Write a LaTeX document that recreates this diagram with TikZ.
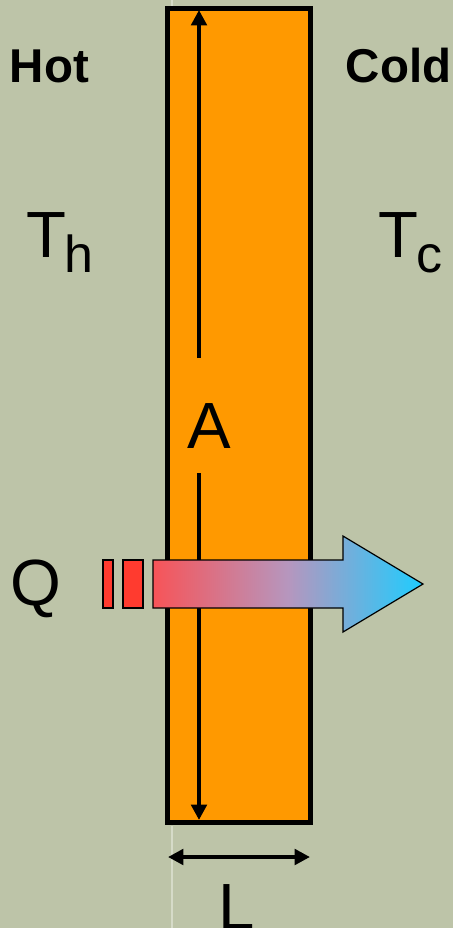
\documentclass[tikz,border=0pt]{standalone}
\usepackage{fontspec}
\setmainfont{Liberation Sans}
\usetikzlibrary{arrows.meta}
\definecolor{bg}{RGB}{189,196,168}
\definecolor{slab}{RGB}{255,153,0}
\definecolor{hotred}{RGB}{255,59,47}
\definecolor{faint}{RGB}{214,219,200}
\definecolor{flowl}{RGB}{247,84,88}
\definecolor{flowm}{RGB}{182,150,190}
\definecolor{flowr}{RGB}{30,205,255}
\pgfdeclarehorizontalshading{heatflow}{100bp}{
  color(0bp)=(flowl);
  color(25bp)=(flowl);
  color(50bp)=(flowm);
  color(75bp)=(flowr);
  color(100bp)=(flowr)}
\tikzset{
  lbl/.style={inner sep=0pt, anchor=base west, text=black},
  bigtxt/.style={lbl, font=\fontsize{49}{49}\selectfont},
  subtxt/.style={lbl, font=\fontsize{39}{39}\selectfont},
  sidetxt/.style={lbl, font=\fontsize{35.6}{36}\selectfont\bfseries},
  dimarrow/.style={line width=3pt, {Triangle[width=11.5pt,length=11.5pt]}-{Triangle[width=11.5pt,length=11.5pt]}},
  dimline/.style={line width=3.3pt},
  slabbox/.style={fill=slab, draw=black, line width=3.75pt},
  pulse/.style={fill=hotred, draw=black, line width=0.8pt}
}
\begin{document}
\begin{tikzpicture}[x=0.75pt, y=-0.75pt]
  \fill[bg] (0,0) rectangle (453,928);
  \useasboundingbox (0,0) rectangle (453,928);
  % faint guide line
  \draw[faint, line width=0.8pt] (172,0) -- (172,6);
  \draw[faint, line width=0.8pt] (172,826) -- (172,928);
  % slab
  \draw[slabbox] (167.5,8) rectangle (310.5,822);
  % area dimension
  \coordinate (atop) at (199,10);
  \coordinate (agap1) at (199,358);
  \coordinate (agap2) at (199,473);
  \coordinate (abot) at (199,820);
  \draw[dimline, -{Triangle[width=11.5pt,length=11.5pt]}] (agap1) -- (atop);
  \draw[dimline, -{Triangle[width=11.5pt,length=11.5pt]}] (agap2) -- (abot);
  \node[bigtxt] (A) at (187,448) {A};
  % thickness dimension
  \coordinate (lleft) at (168,857);
  \coordinate (lright) at (310,857);
  \draw[dimarrow] (lleft) -- (lright);
  \node[bigtxt] (L) at (218,929) {L};
  % heat flow arrow
  \draw[pulse] (103,560) rectangle (113,608);
  \draw[pulse] (123,560) rectangle (143,608);
  \path[shading=heatflow, draw=black, line width=0.9pt]
    (153,560) -- (343,560) -- (343,536) -- (423,584) -- (343,632) -- (343,608) -- (153,608) -- cycle;
  \node[bigtxt] (Q) at (10,605) {Q};
  % labels
  \node[sidetxt] (hot) at (9.5,82) {Hot};
  \node[sidetxt] (cold) at (345.5,82) {Cold};
  \node[bigtxt] (Th) at (26,257) {T};
  \node[subtxt] (h) at (64,272) {h};
  \node[bigtxt] (Tc) at (378,257) {T};
  \node[subtxt] (c) at (416,272) {c};
\end{tikzpicture}
\end{document}
